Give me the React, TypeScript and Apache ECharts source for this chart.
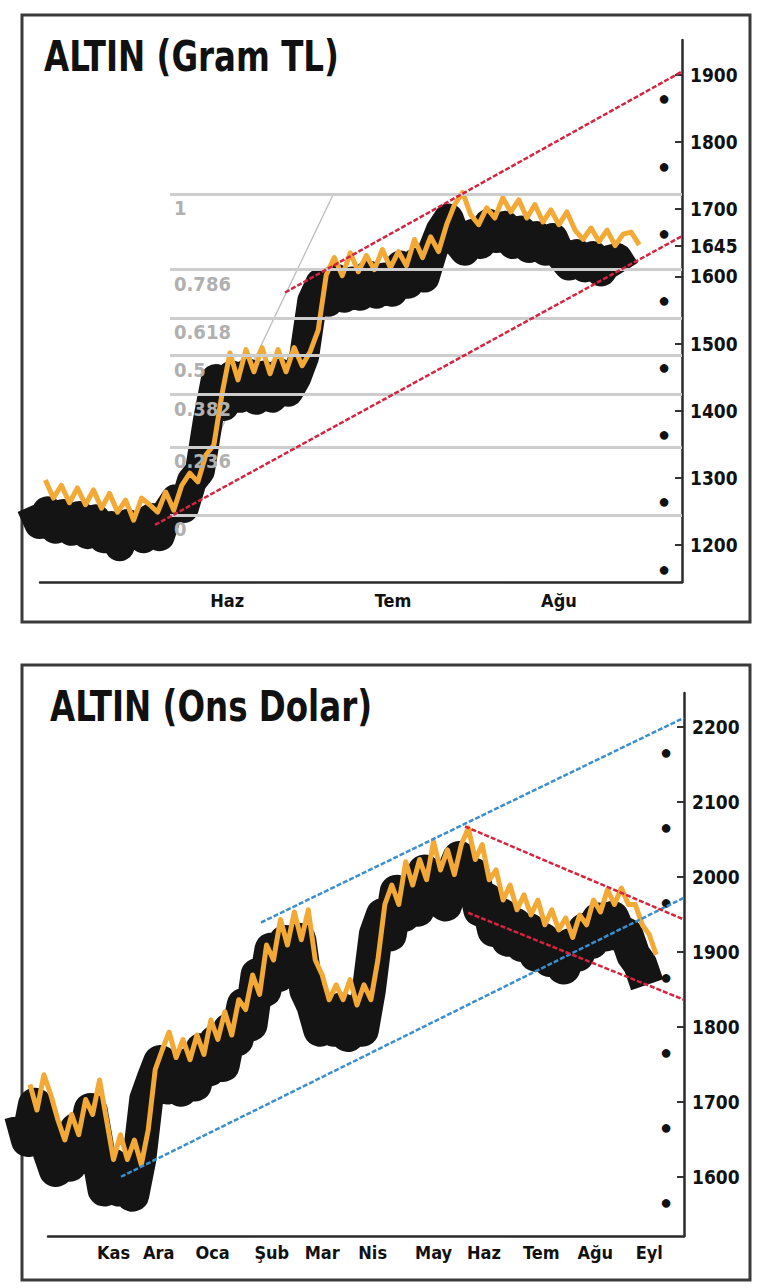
import React, { useEffect, useRef } from "react";
import * as echarts from "echarts";

const FONT = "'DejaVu Sans Condensed', 'Liberation Sans Narrow', sans-serif";

// ---------- ALTIN (Gram TL) ----------
const gramStartDay = 1;
const gramStepDays = 1.5;
const gramValues = [
  1297, 1270, 1289, 1263, 1285, 1260, 1282, 1255, 1277, 1249,
  1267, 1237, 1270, 1260, 1249, 1279, 1252, 1289, 1307, 1294,
  1334, 1349, 1424, 1486, 1446, 1491, 1458, 1494, 1455, 1491,
  1458, 1494, 1467, 1488, 1520, 1602, 1628, 1601, 1635, 1607,
  1631, 1610, 1640, 1613, 1637, 1616, 1655, 1628, 1659, 1637,
  1677, 1707, 1725, 1692, 1677, 1702, 1687, 1717, 1696, 1714,
  1687, 1707, 1681, 1699, 1677, 1696, 1669, 1655, 1672, 1652,
  1669, 1646, 1663, 1666, 1647,
];
const gramMonthLabels = ["Haz", "Tem", "Ağu"];
const gramMonthDays = [35, 66, 97];
const gramTicks = [1200, 1300, 1400, 1500, 1600, 1700, 1800, 1900];
const gramLastPrice = 1645;
const gramDots = [1165, 1265, 1365, 1465, 1565, 1665, 1765, 1865];
const gramUpperChannel = [[45.8, 1576], [120, 1905]];
const gramLowerChannel = [[21.5, 1230], [120, 1660]];
const gramFibDiagonal = [[26.2, 1245], [54.8, 1722]];
const fibLevels = [1722, 1610, 1538, 1482, 1424, 1346, 1245];
const fibLabels = ["1", "0.786", "0.618", "0.5", "0.382", "0.236", "0"];
const fibStartDay = 24.3;
const fibEndDay = 120;

// ---------- ALTIN (Ons Dolar) ----------
const onsStartDay = 0;
const onsStepDays = 4;
const onsValues = [
  1723, 1689, 1736, 1709, 1676, 1649, 1683, 1656, 1703, 1683,
  1729, 1676, 1623, 1656, 1623, 1649, 1616, 1663, 1743, 1769,
  1793, 1759, 1783, 1756, 1789, 1763, 1809, 1783, 1820, 1789,
  1836, 1823, 1869, 1843, 1909, 1889, 1943, 1909, 1953, 1916,
  1956, 1889, 1869, 1836, 1856, 1836, 1863, 1829, 1856, 1836,
  1889, 1963, 1989, 1963, 2020, 1989, 2023, 1996, 2047, 2009,
  2036, 2003, 2043, 2065, 2023, 2043, 1996, 2009, 1969, 1989,
  1956, 1976, 1949, 1969, 1936, 1956, 1929, 1945, 1919, 1949,
  1936, 1969, 1953, 1983, 1963, 1985, 1963, 1963, 1936, 1923,
  1896,
];
const onsMonthLabels = ["Kas", "Ara", "Oca", "Şub", "Mar", "Nis", "May", "Haz", "Tem", "Ağu", "Eyl"];
const onsMonthDays = [48, 74, 105, 139, 168, 197, 232, 261, 294, 325, 356];
const onsTicks = [1600, 1700, 1800, 1900, 2000, 2100, 2200];
const onsDots = [1567, 1667, 1767, 1867, 1967, 2067, 2167];
const onsUpperBlue = [[132.8, 1939], [376, 2212]];
const onsLowerBlue = [[52.3, 1600], [376, 1972]];
const onsUpperRed = [[250.1, 2067], [376, 1943]];
const onsLowerRed = [[251.9, 1952], [376, 1836]];

const ORANGE = "#f3a935";
const BLACK = "#141414";
const RED = "#d6233f";
const BLUE = "#3b8fce";

function buildOption() {
  const gramSeries = gramValues.map((v, i) => [gramStartDay + i * gramStepDays, v]);
  const onsSeries = onsValues.map((v, i) => [onsStartDay + i * onsStepDays, v]);

  const gramRange = { min: 1145, max: 1952 };
  const onsRange = { min: 1521, max: 2245 };
  const gramX = { min: 0, max: 120 };
  const onsX = { min: 0, max: 376 };

  const xLabelStyle = { fontFamily: FONT, fontWeight: "bold" as const, fontSize: 18, color: "#111" };
  const yLabelStyle = { fontFamily: FONT, fontWeight: "bold" as const, fontSize: 19, color: "#111" };
  const axisLineStyle = { show: true, onZero: false, lineStyle: { color: "#2a2a2a", width: 2.5 } };

  const trend = (data: number[][], color: string, xi: number, yi: number) => ({
    type: "line",
    xAxisIndex: xi,
    yAxisIndex: yi,
    data,
    symbol: "none",
    silent: true,
    z: 5,
    lineStyle: { color, width: 2.5, type: [5, 2] },
  });

  const hiddenX = (gridIndex: number, r: any) => ({ type: "value", gridIndex, ...r, show: false });
  const hiddenY = (gridIndex: number, r: any) => ({ type: "value", gridIndex, ...r, show: false });
  const dotsY = (gridIndex: number, r: any, dots: number[]) => ({
    type: "value", gridIndex, position: "right", ...r,
    axisLine: { show: false, onZero: false }, axisTick: { show: false }, splitLine: { show: false },
    axisLabel: { show: true, inside: true, margin: 12, fontSize: 20, color: "#111", customValues: dots, formatter: () => "●" },
  });
  const lineOnlyX = (gridIndex: number, r: any) => ({
    type: "value", gridIndex, ...r,
    axisLine: axisLineStyle, axisTick: { show: false }, axisLabel: { show: false }, splitLine: { show: false },
  });

  return {
    animation: false,
    backgroundColor: "#fff",
    grid: [
      { left: 40, right: 88, top: 40, height: 542, outerBoundsMode: "none" },
      { left: 26, right: 102, top: 66, height: 542, outerBoundsMode: "none" },
      { left: 40, right: 88, top: 40, height: 542, outerBoundsMode: "none" },
      { left: 30, right: 86, top: 693, height: 543, outerBoundsMode: "none" },
      { left: 21, right: 95, top: 723, height: 543, outerBoundsMode: "none" },
      { left: 48, right: 86, top: 693, height: 543, outerBoundsMode: "none" },
    ],
    xAxis: [
      {
        type: "value", gridIndex: 0, ...gramX,
        axisLine: { show: false, onZero: false },
        axisTick: { show: false },
        splitLine: { show: false },
        axisLabel: {
          ...xLabelStyle, margin: 9,
          customValues: gramMonthDays,
          formatter: (v: number) => gramMonthLabels[gramMonthDays.indexOf(v)] ?? "",
        },
      },
      hiddenX(1, gramX),
      lineOnlyX(2, gramX),
      {
        type: "value", gridIndex: 3, ...onsX,
        axisLine: { show: false, onZero: false },
        axisTick: { show: false },
        splitLine: { show: false },
        axisLabel: {
          ...xLabelStyle, margin: 7,
          customValues: onsMonthDays,
          formatter: (v: number) => onsMonthLabels[onsMonthDays.indexOf(v)] ?? "",
        },
      },
      hiddenX(4, onsX),
      lineOnlyX(5, onsX),
    ],
    yAxis: [
      {
        type: "value", gridIndex: 0, position: "right", ...gramRange,
        axisLine: axisLineStyle,
        axisTick: { show: true, inside: true, length: 7, lineStyle: { color: "#333", width: 2 }, customValues: [...gramTicks, gramLastPrice] },
        splitLine: { show: false },
        axisLabel: { ...yLabelStyle, margin: 8, customValues: [...gramTicks, gramLastPrice], formatter: (v: number) => String(v) },
      },
      hiddenY(1, gramRange),
      dotsY(2, gramRange, gramDots),
      {
        type: "value", gridIndex: 3, position: "right", ...onsRange,
        axisLine: axisLineStyle,
        axisTick: { show: true, inside: true, length: 7, lineStyle: { color: "#333", width: 2 }, customValues: onsTicks },
        splitLine: { show: false },
        axisLabel: { ...yLabelStyle, margin: 8, customValues: onsTicks, formatter: (v: number) => String(v) },
      },
      hiddenY(4, onsRange),
      dotsY(5, onsRange, onsDots),
    ],
    graphic: [
      { type: "rect", shape: { x: 22, y: 15, width: 728, height: 607 }, style: { fill: "none", stroke: "#3a3a3a", lineWidth: 3 }, silent: true },
      { type: "rect", shape: { x: 22, y: 665, width: 728, height: 615 }, style: { fill: "none", stroke: "#3a3a3a", lineWidth: 3 }, silent: true },
      {
        type: "text", x: 44, y: 36, scaleX: 0.86, silent: true,
        style: { text: "ALTIN (Gram TL)", fontFamily: FONT, fontWeight: "bold", fontSize: 42, fill: "#111", verticalAlign: "top" },
      },
      {
        type: "text", x: 50, y: 686, scaleX: 0.86, silent: true,
        style: { text: "ALTIN (Ons Dolar)", fontFamily: FONT, fontWeight: "bold", fontSize: 42, fill: "#111", verticalAlign: "top" },
      },
    ],
    series: [
      {
        type: "line", xAxisIndex: 0, yAxisIndex: 0, data: gramFibDiagonal, symbol: "none", silent: true, z: 1,
        lineStyle: { color: "#bdbdbd", width: 1.3 },
        markLine: {
          silent: true, symbol: ["none", "none"], animation: false,
          lineStyle: { color: "#cdcdcd", width: 3, type: "solid" },
          label: {
            show: true, position: "insideStartBottom", distance: 4, formatter: "{b}",
            fontFamily: FONT, fontWeight: "bold", fontSize: 20, color: "#b0b0b0",
          },
          data: fibLevels.map((v, i) => [
            { name: fibLabels[i], coord: [fibStartDay, v] },
            { coord: [fibEndDay, v] },
          ]),
        },
      },
      {
        type: "line", xAxisIndex: 1, yAxisIndex: 1, data: gramSeries, symbol: "none", silent: true, z: 2, clip: false,
        lineStyle: { color: BLACK, width: 30, join: "round", cap: "butt" },
      },
      {
        type: "line", xAxisIndex: 0, yAxisIndex: 0, data: gramSeries, symbol: "none", silent: true, z: 3,
        lineStyle: { color: ORANGE, width: 5, join: "round" },
      },
      trend(gramUpperChannel, RED, 0, 0),
      trend(gramLowerChannel, RED, 0, 0),

      {
        type: "line", xAxisIndex: 4, yAxisIndex: 4, data: onsSeries, symbol: "none", silent: true, z: 2, clip: false,
        lineStyle: { color: BLACK, width: 34, join: "round", cap: "butt" },
      },
      {
        type: "line", xAxisIndex: 3, yAxisIndex: 3, data: onsSeries, symbol: "none", silent: true, z: 3,
        lineStyle: { color: ORANGE, width: 5, join: "round" },
      },
      trend(onsUpperBlue, BLUE, 3, 3),
      trend(onsLowerBlue, BLUE, 3, 3),
      trend(onsUpperRed, RED, 3, 3),
      trend(onsLowerRed, RED, 3, 3),
    ],
  };
}

export default function App() {
  const ref = useRef<HTMLDivElement>(null);
  useEffect(() => {
    if (!ref.current) return;
    const chart = echarts.init(ref.current, null, { renderer: "svg" });
    chart.setOption(buildOption() as any);
    return () => chart.dispose();
  }, []);
  return (
    <div
      ref={ref}
      style={{ position: "absolute", left: 0, top: 0, width: 770, height: 1288, background: "#fff" }}
    />
  );
}
